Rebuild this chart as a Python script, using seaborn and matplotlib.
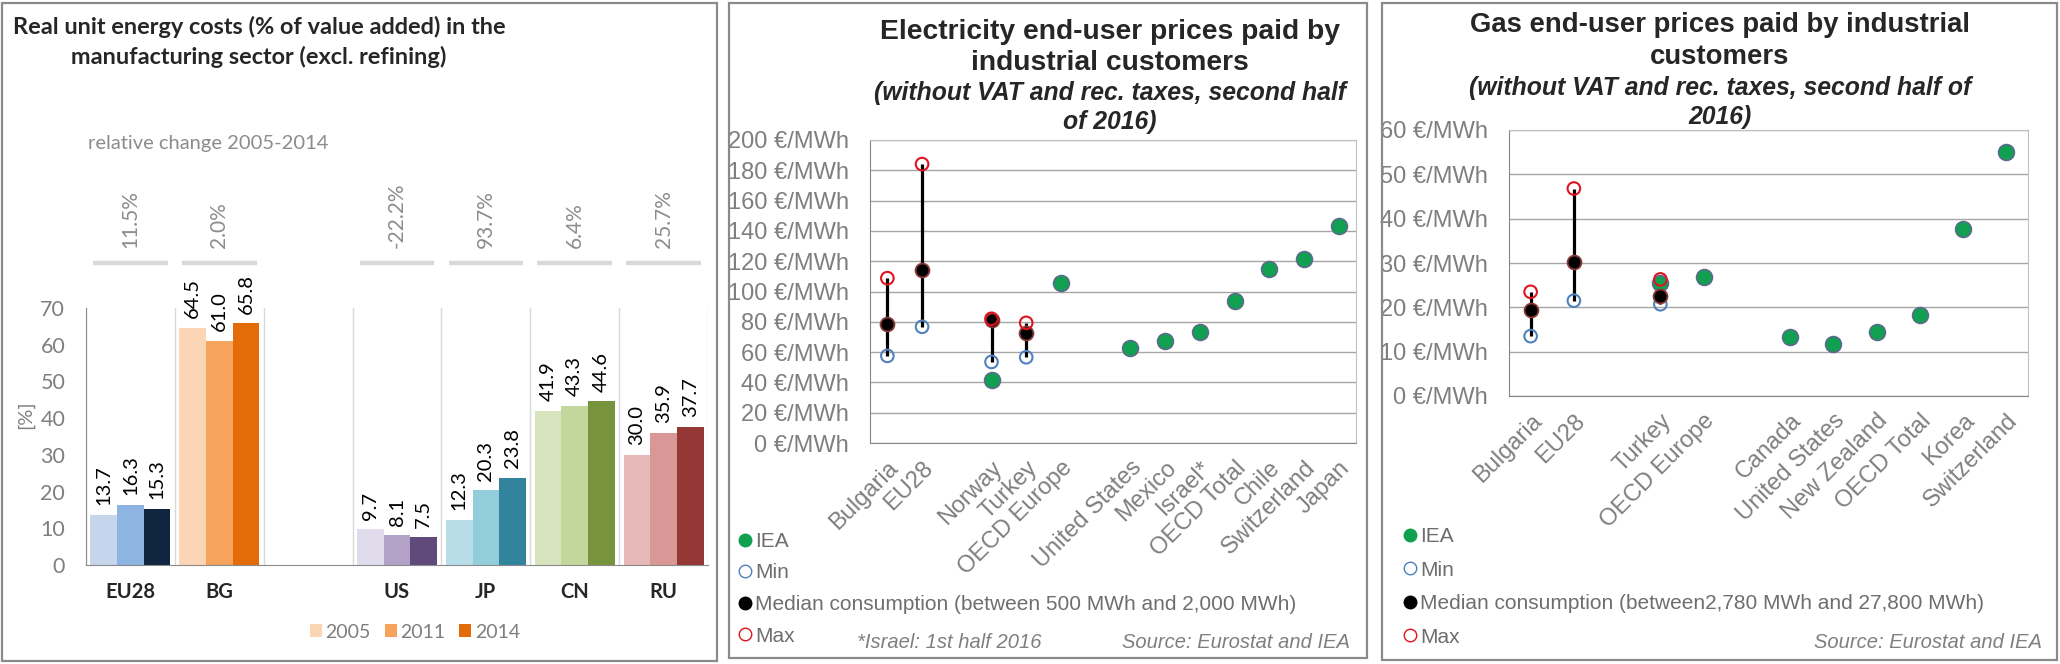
import numpy as np
import pandas as pd
import seaborn as sns
import matplotlib.pyplot as plt
from matplotlib.patches import Rectangle, Patch
from matplotlib.lines import Line2D
from matplotlib.ticker import FuncFormatter

nan = np.nan

# ---- left panel: real unit energy costs (% of value added)
countries = ['EU28', 'BG', ' ', 'US', 'JP', 'CN', 'RU']
years = ['2005', '2011', '2014']
v2005 = [13.7, 64.5, nan, 9.7, 12.3, 41.9, 30.0]
v2011 = [16.3, 61.0, nan, 8.1, 20.3, 43.3, 35.9]
v2014 = [15.3, 65.8, nan, 7.5, 23.8, 44.6, 37.7]
rel_change = ['11.5%', '2.0%', '', '-22.2%', '93.7%', '6.4%', '25.7%']

# ---- middle panel: electricity prices (EUR/MWh)
elec_labels = ['Bulgaria', 'EU28', '', 'Norway', 'Turkey', 'OECD Europe', '',
               'United States', 'Mexico', 'Israel*', 'OECD Total', 'Chile',
               'Switzerland', 'Japan']
elec_iea = [nan, nan, nan, 41.4, nan, 105.7, nan, 62.8, 67.4, 73.3, 93.8, 115.0, 121.6, 143.2]
elec_min = [57.5, 76.7, nan, 53.5, 56.6, nan, nan, nan, nan, nan, nan, nan, nan, nan]
elec_med = [78.4, 114.1, nan, 81.5, 72.5, nan, nan, nan, nan, nan, nan, nan, nan, nan]
elec_max = [108.8, 184.1, nan, 82.0, 79.3, nan, nan, nan, nan, nan, nan, nan, nan, nan]

# ---- right panel: gas prices (EUR/MWh)
gas_labels = ['Bulgaria', 'EU28', '', 'Turkey', 'OECD Europe', '', 'Canada',
              'United States', 'New Zealand', 'OECD Total', 'Korea', 'Switzerland']
gas_iea = [nan, nan, nan, 25.4, 26.8, nan, 13.4, 11.7, 14.5, 18.3, 37.6, 55.1]
gas_min = [13.5, 21.5, nan, 20.7, nan, nan, nan, nan, nan, nan, nan, nan]
gas_med = [19.4, 30.2, nan, 22.6, nan, nan, nan, nan, nan, nan, nan, nan]
gas_max = [23.5, 46.8, nan, 26.3, nan, nan, nan, nan, nan, nan, nan, nan]

bar_colors = {
    'EU28': ['#c5d5ec', '#8db4e2', '#10253f'],
    'BG': ['#fcd5b4', '#f6a35e', '#e36c09'],
    'US': ['#e0dcec', '#b3a2c7', '#5f4a7b'],
    'JP': ['#b7dde8', '#92cddc', '#31849b'],
    'CN': ['#d7e4bd', '#c3d69b', '#77933c'],
    'RU': ['#e6b9b8', '#d99795', '#953735'],
}

sns.set_style('white')
plt.rcParams['font.family'] = ['Liberation Sans', 'DejaVu Sans']

W, H = 2060, 664
fig = plt.figure(figsize=(W / 100, H / 100), dpi=100)


def px_axes(x0, y0, x1, y1):
    return fig.add_axes([x0 / W, 1 - y1 / H, (x1 - x0) / W, (y1 - y0) / H])


def fx(x):
    return x / W


def fy(y):
    return 1 - y / H


# panel frames
for x0, y0, x1, y1 in [(2, 3, 717, 661), (729, 3, 1367, 658), (1382, 3, 2057, 660)]:
    fig.patches.append(Rectangle((fx(x0), fy(y1)), fx(x1 - x0), (y1 - y0) / H,
                                 transform=fig.transFigure, fill=False,
                                 edgecolor='#8a8a8a', lw=1.6))

GRAY = '#7f7f7f'
LATO = ['Lato', 'DejaVu Sans']

# ================= panel 1 =================
ax1 = px_axes(86, 308, 708, 565)
bars = pd.DataFrame({'country': countries, '2005': v2005, '2011': v2011, '2014': v2014})
bars = bars.melt(id_vars='country', var_name='year', value_name='value').dropna()
sns.barplot(data=bars, x='country', y='value', hue='year', order=countries,
            hue_order=years, width=0.9, gap=0, saturation=1, legend=False, ax=ax1)
for k, cont in enumerate(ax1.containers):
    for p in cont.patches:
        idx = int(round(p.get_x() + p.get_width() / 2))
        p.set_facecolor(bar_colors[countries[idx]][k])
        p.set_edgecolor('none')
    ax1.bar_label(cont, fmt='%.1f', rotation=90, padding=7, fontsize=14.5,
                  family=LATO, color='black')

ax1.set_xlim(-0.5, len(countries) - 0.5)
ax1.set_ylim(0, 70)
ax1.set_yticks(range(0, 71, 10))
ax1.set_xticks(np.arange(-0.5, len(countries), 1), minor=True)
ax1.grid(axis='x', which='minor', color='#d9d9d9', lw=1)
ax1.grid(axis='y', visible=False)
ax1.tick_params(axis='x', which='major', length=0, pad=12)
ax1.tick_params(axis='x', which='minor', length=5, color='#8a8a8a', direction='out')
ax1.tick_params(axis='y', length=6, color='#8a8a8a', pad=9, labelcolor=GRAY)
for lab in ax1.get_xticklabels():
    lab.set_fontweight('bold')
    lab.set_fontsize(14.5)
    lab.set_family(LATO)
for lab in ax1.get_yticklabels():
    lab.set_fontsize(15.5)
    lab.set_family(LATO)
for s in ['top', 'right']:
    ax1.spines[s].set_visible(False)
for s in ['left', 'bottom']:
    ax1.spines[s].set_color('#8a8a8a')
ax1.set_xlabel('')
ax1.set_ylabel('')
fig.text(fx(25), fy(415), '[%]', rotation=90, ha='center', va='center',
         fontsize=14.5, color=GRAY, family=LATO)

# relative change header row
for i, txt in enumerate(rel_change):
    if not txt:
        continue
    ax1.plot([i - 0.42, i + 0.42], [1.175, 1.175], transform=ax1.get_xaxis_transform(),
             color='#d9d9d9', lw=3.2, clip_on=False, solid_capstyle='butt')
    ax1.text(i, 1.235, txt, transform=ax1.get_xaxis_transform(), rotation=90,
             ha='center', va='bottom', fontsize=15, color='#8c8c8c', family=LATO)
fig.text(fx(88), fy(143), 'relative change 2005-2014', ha='left', va='center',
         fontsize=14.5, color='#8c8c8c', family=LATO)

fig.text(fx(259), fy(27), 'Real unit energy costs (% of value added) in the',
         ha='center', va='center', fontsize=16.9, fontweight='bold', family=LATO)
fig.text(fx(259), fy(57), 'manufacturing sector (excl. refining)',
         ha='center', va='center', fontsize=16.9, fontweight='bold', family=LATO)

handles = [Patch(facecolor=c, edgecolor='none') for c in bar_colors['BG']]
ax1.legend(handles, years, loc='center', bbox_to_anchor=(fx(415), fy(632)),
           bbox_transform=fig.transFigure, ncol=3, frameon=False,
           handlelength=0.62, handleheight=0.62, columnspacing=0.7,
           handletextpad=0.2, labelcolor=GRAY, prop={'family': LATO, 'size': 14})


# ================= panels 2 and 3 =================
def price_panel(ax, labels, iea, vmin, vmed, vmax, ymax, ystep):
    df = pd.DataFrame({'pos': np.arange(len(labels)), 'IEA': iea,
                       'Min': vmin, 'Median': vmed, 'Max': vmax})
    ax.vlines(df['pos'], df['Min'], df['Max'], color='black', lw=2.3, zorder=2)
    sns.scatterplot(data=df, x='pos', y='IEA', ax=ax, s=130, color='#10a050',
                    edgecolor='#5b6b8c', linewidth=1.2, zorder=3)
    sns.scatterplot(data=df, x='pos', y='Min', ax=ax, s=82, facecolor='none',
                    edgecolor='#4f81bd', linewidth=1.5, zorder=4)
    sns.scatterplot(data=df, x='pos', y='Median', ax=ax, s=100, color='black',
                    edgecolor='#8b3a3a', linewidth=1.3, zorder=5)
    sns.scatterplot(data=df, x='pos', y='Max', ax=ax, s=82, facecolor='none',
                    edgecolor='#e0141e', linewidth=1.5, zorder=6)
    n = len(labels)
    ax.set_xlim(-0.5, n - 0.5)
    ax.set_ylim(0, ymax)
    ax.set_yticks(np.arange(0, ymax + 1, ystep))
    ax.yaxis.set_major_formatter(FuncFormatter(lambda v, p: f'{v:.0f} €/MWh'))
    ax.set_xticks(np.arange(n))
    ax.set_xticklabels(labels, rotation=45, ha='right', va='top', rotation_mode='anchor')
    ax.set_xticks(np.arange(-0.5, n, 1), minor=True)
    ax.grid(axis='y', color='#a6a6a6', lw=1)
    ax.grid(axis='x', visible=False)
    ax.tick_params(axis='x', which='major', length=0, pad=10, labelsize=17, labelcolor=GRAY)
    ax.tick_params(axis='x', which='minor', length=7, color='#868686', direction='out')
    ax.tick_params(axis='y', length=7, color='#868686', pad=8, labelsize=17, labelcolor=GRAY)
    for s in ['left', 'bottom']:
        ax.spines[s].set_color('#868686')
    for s in ['top', 'right']:
        ax.spines[s].set_color('#c0c0c0')
    ax.set_xlabel('')
    ax.set_ylabel('')


def price_legend(ax, median_text, x_left, y_top, spacing):
    handles = [
        Line2D([], [], ls='none', marker='o', ms=9, mfc='#10a050', mec='#10a050'),
        Line2D([], [], ls='none', marker='o', ms=9, mfc='none', mec='#4f81bd', mew=1),
        Line2D([], [], ls='none', marker='o', ms=9, mfc='black', mec='black'),
        Line2D([], [], ls='none', marker='o', ms=9, mfc='none', mec='#e0141e', mew=1),
    ]
    ax.legend(handles, ['IEA', 'Min', median_text, 'Max'], loc='upper left',
              bbox_to_anchor=(fx(x_left), fy(y_top)), bbox_transform=fig.transFigure,
              frameon=False, borderpad=0, borderaxespad=0, handlelength=0.65,
              handletextpad=0.15, labelspacing=spacing, labelcolor='#6e6e6e',
              prop={'size': 15})


ax2 = px_axes(870, 140, 1356, 443)
price_panel(ax2, elec_labels, elec_iea, elec_min, elec_med, elec_max, 200, 20)
price_legend(ax2, 'Median consumption (between 500 MWh and 2,000 MWh)', 738.5, 532, 0.6)
fig.text(fx(1110), fy(32), 'Electricity end-user prices paid by', ha='center', va='center',
         fontsize=20.3, fontweight='bold')
fig.text(fx(1110), fy(63), 'industrial customers', ha='center', va='center',
         fontsize=20.3, fontweight='bold')
fig.text(fx(1110), fy(93), '(without VAT and rec. taxes, second half', ha='center',
         va='center', fontsize=17.8, fontweight='bold', style='italic')
fig.text(fx(1110), fy(122), 'of 2016)', ha='center', va='center', fontsize=17.8,
         fontweight='bold', style='italic')
fig.text(fx(857), fy(643), '*Israel: 1st half 2016', ha='left', va='center',
         fontsize=14.5, style='italic', color=GRAY)
fig.text(fx(1350), fy(643), 'Source: Eurostat and IEA', ha='right', va='center',
         fontsize=14.5, style='italic', color=GRAY)

ax3 = px_axes(1509, 130, 2028, 396)
price_panel(ax3, gas_labels, gas_iea, gas_min, gas_med, gas_max, 60, 10)
price_legend(ax3, 'Median consumption (between2,780 MWh and 27,800 MWh)', 1403.5, 527, 0.7)
fig.text(fx(1720), fy(25), 'Gas end-user prices paid by industrial', ha='center',
         va='center', fontsize=19.8, fontweight='bold')
fig.text(fx(1720), fy(57), 'customers', ha='center', va='center', fontsize=19.8,
         fontweight='bold')
fig.text(fx(1720), fy(88), '(without VAT and rec. taxes, second half of', ha='center',
         va='center', fontsize=17.8, fontweight='bold', style='italic')
fig.text(fx(1720), fy(117), '2016)', ha='center', va='center', fontsize=17.8,
         fontweight='bold', style='italic')
fig.text(fx(2042), fy(643), 'Source: Eurostat and IEA', ha='right', va='center',
         fontsize=14.5, style='italic', color=GRAY)

fig.savefig('out.png', dpi=100)
